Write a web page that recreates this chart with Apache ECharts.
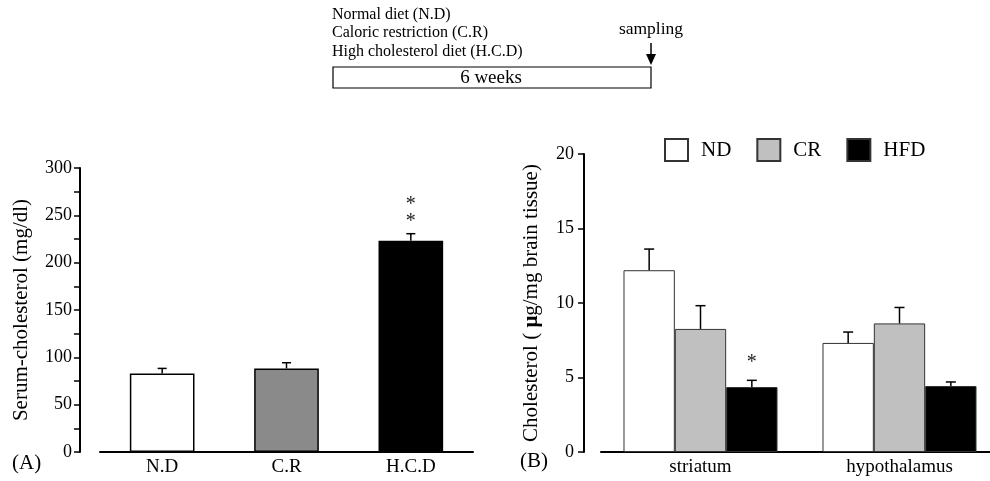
<!DOCTYPE html>
<html><head><meta charset="utf-8">
<script src="https://cdn.jsdelivr.net/npm/echarts@6/dist/echarts.min.js"></script>
<style>html,body{margin:0;padding:0;background:#fff}#c{width:990px;height:481px}</style>
</head><body><div id="c"></div>
<script>
// ---- data ----
const leftCategories = ['N.D', 'C.R', 'H.C.D'];
const leftValues = [83, 88.3, 223.2];
const leftErrors = [5.3, 6.0, 7.4];
const leftColors = ['#ffffff', '#8a8a8a', '#000000'];
const leftStarValues = [261.5, 243]; // asterisks above H.C.D
const leftStarCategory = 2;
const leftTicks = [0, 50, 100, 150, 200, 250, 300];

const rightCategories = ['striatum', 'hypothalamus'];
const seriesNames = ['ND', 'CR', 'HFD'];
const ndValues = [12.2, 7.32];
const ndErrors = [1.42, 0.73];
const crValues = [8.26, 8.63];
const crErrors = [1.56, 1.07];
const hfdValues = [4.36, 4.43];
const hfdErrors = [0.45, 0.27];
const rightColors = ['#ffffff', '#c0c0c0', '#000000'];
const rightStar = { category: 0, series: 2, value: 5.97 };
const rightTicks = [0, 5, 10, 15, 20];

const FONT = '"Liberation Serif", "Times New Roman", serif';
const LEFT_BAR_FRAC = 0.52;
const RIGHT_BAR_FRAC = 0.258;

function errorRender(frac, cap, lw) {
  return function (params, api) {
    const cat = api.value(0), v = api.value(1), e = api.value(2), slot = api.value(3);
    const band = api.size([1, 0])[0];
    const p0 = api.coord([cat, v]);
    const p1 = api.coord([cat, v + e]);
    const x = p0[0] + slot * band * frac;
    return {
      type: 'group',
      children: [
        { type: 'line', shape: { x1: x, y1: p0[1], x2: x, y2: p1[1] }, style: { stroke: '#000', lineWidth: lw } },
        { type: 'line', shape: { x1: x - cap, y1: p1[1], x2: x + cap, y2: p1[1] }, style: { stroke: '#000', lineWidth: lw } }
      ]
    };
  };
}
function starRender(frac) {
  return function (params, api) {
    const cat = api.value(0), v = api.value(1), slot = api.value(2);
    const band = api.size([1, 0])[0];
    const p = api.coord([cat, v]);
    return {
      type: 'text',
      style: { x: p[0] + slot * band * frac, y: p[1], text: '*', font: '20px ' + FONT, fill: '#222', align: 'center', verticalAlign: 'middle' }
    };
  };
}

const rightValues = [ndValues, crValues, hfdValues];
const rightErrors = [ndErrors, crErrors, hfdErrors];
const rightErrData = [];
for (let s = 0; s < 3; s++) for (let c = 0; c < rightCategories.length; c++)
  rightErrData.push([c, rightValues[s][c], rightErrors[s][c], s - 1]);

const axisLine = { show: true, lineStyle: { color: '#000', width: 2 } };
const chart = echarts.init(document.getElementById('c'), null, { renderer: 'canvas' });
chart.setOption({
  animation: false,
  backgroundColor: '#fff',
  textStyle: { fontFamily: FONT, color: '#000' },
  grid: [
    { left: 100, width: 373, top: 168, bottom: 29, outerBoundsMode: 'none' },
    { left: 601, width: 398, top: 154, bottom: 29, outerBoundsMode: 'none' }
  ],
  legend: {
    data: seriesNames, left: 664, top: 138, padding: 0,
    itemWidth: 23, itemHeight: 22, itemGap: 25, icon: 'rect',
    textStyle: { fontFamily: FONT, fontSize: 21, color: '#000', padding: [0, 0, 0, 8] }
  },
  xAxis: [
    { gridIndex: 0, type: 'category', data: leftCategories, axisLine: axisLine, axisTick: { show: false },
      axisLabel: { fontFamily: FONT, fontSize: 19, color: '#000', margin: 6 } },
    { gridIndex: 1, type: 'category', data: rightCategories, axisLine: axisLine, axisTick: { show: false },
      axisLabel: { fontFamily: FONT, fontSize: 19, color: '#000', margin: 6 } }
  ],
  yAxis: [
    { gridIndex: 0, type: 'value', min: leftTicks[0], max: leftTicks[leftTicks.length - 1], interval: leftTicks[1] - leftTicks[0],
      offset: 20, axisLine: axisLine, axisTick: { show: true, length: 6, lineStyle: { color: '#000', width: 1.5 } },
      minorTick: { show: true, splitNumber: 2, length: 6, lineStyle: { color: '#000', width: 1.5 } },
      splitLine: { show: false },
      axisLabel: { fontFamily: FONT, fontSize: 18, color: '#000', margin: 8 },
      name: 'Serum-cholesterol (mg/dl)', nameLocation: 'middle', nameGap: 48,
      nameTextStyle: { fontFamily: FONT, fontSize: 21, color: '#000' } },
    { gridIndex: 1, type: 'value', min: rightTicks[0], max: rightTicks[rightTicks.length - 1], interval: rightTicks[1] - rightTicks[0],
      offset: 17, axisLine: axisLine, axisTick: { show: true, length: 6, lineStyle: { color: '#000', width: 1.5 } },
      splitLine: { show: false },
      axisLabel: { fontFamily: FONT, fontSize: 18, color: '#000', margin: 10 },
      name: 'Cholesterol ( {b|μ}g/mg brain tissue)', nameLocation: 'middle', nameGap: 42,
      nameTextStyle: { fontFamily: FONT, fontSize: 21, color: '#000', rich: { b: { fontFamily: FONT, fontSize: 21, fontWeight: 'bold' } } } }
  ],
  series: [
    { type: 'bar', xAxisIndex: 0, yAxisIndex: 0, barWidth: (LEFT_BAR_FRAC * 100) + '%',
      data: leftValues.map((v, i) => ({ value: v, itemStyle: { color: leftColors[i] } })),
      itemStyle: { borderColor: '#000', borderWidth: 1.5 } },
    { type: 'custom', xAxisIndex: 0, yAxisIndex: 0, renderItem: errorRender(0, 4.5, 1.5),
      data: leftValues.map((v, i) => [i, v, leftErrors[i], 0]), z: 5 },
    { type: 'custom', xAxisIndex: 0, yAxisIndex: 0, renderItem: starRender(0),
      data: leftStarValues.map(v => [leftStarCategory, v, 0]), z: 5 },
    ...seriesNames.map((n, s) => ({
      name: n, type: 'bar', xAxisIndex: 1, yAxisIndex: 1, barWidth: (RIGHT_BAR_FRAC * 100) + '%', barGap: '0%',
      data: rightValues[s], itemStyle: { color: rightColors[s], borderColor: '#333', borderWidth: 1 }
    })),
    { type: 'custom', xAxisIndex: 1, yAxisIndex: 1, renderItem: errorRender(RIGHT_BAR_FRAC, 5, 1.5),
      data: rightErrData, z: 5 },
    { type: 'custom', xAxisIndex: 1, yAxisIndex: 1, renderItem: starRender(RIGHT_BAR_FRAC),
      data: [[rightStar.category, rightStar.value, rightStar.series - 1]], z: 5 }
  ],
  graphic: [
    { type: 'text', left: 332, top: 7, style: { text: 'Normal diet (N.D)', font: '16px ' + FONT, fill: '#000' } },
    { type: 'text', left: 332, top: 25, style: { text: 'Caloric restriction (C.R)', font: '16px ' + FONT, fill: '#000' } },
    { type: 'text', left: 332, top: 44, style: { text: 'High cholesterol diet (H.C.D)', font: '16px ' + FONT, fill: '#000' } },
    { type: 'rect', shape: { x: 333, y: 67, width: 318, height: 21 }, style: { fill: '#fff', stroke: '#000', lineWidth: 1.2 } },
    { type: 'text', style: { x: 491, y: 78, text: '6 weeks', font: '19px ' + FONT, fill: '#000', align: 'center', verticalAlign: 'middle' } },
    { type: 'text', style: { x: 651, y: 29, text: 'sampling', font: '17.5px ' + FONT, fill: '#000', align: 'center', verticalAlign: 'middle' } },
    { type: 'line', shape: { x1: 651, y1: 43, x2: 651, y2: 56 }, style: { stroke: '#000', lineWidth: 1.5 } },
    { type: 'polygon', shape: { points: [[646, 54], [656, 54], [651, 65]] }, style: { fill: '#000' } },
    { type: 'text', left: 12, top: 453, style: { text: '(A)', font: '21px ' + FONT, fill: '#000' } },
    { type: 'text', left: 520, top: 451, style: { text: '(B)', font: '21px ' + FONT, fill: '#000' } }
  ]
});
</script></body></html>
